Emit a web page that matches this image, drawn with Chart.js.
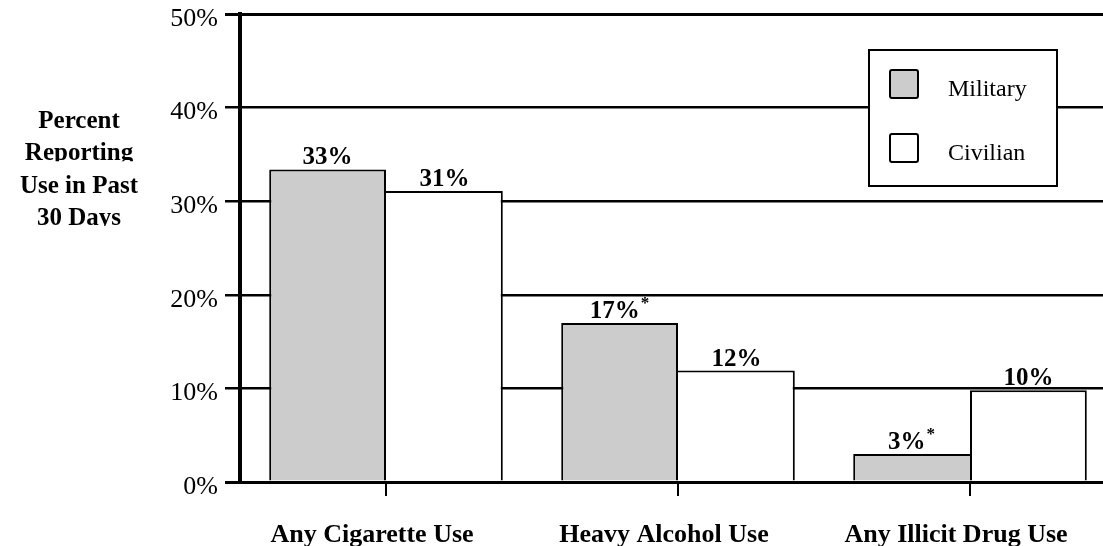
<!DOCTYPE html>
<html><head><meta charset="utf-8">
<script src="https://cdn.jsdelivr.net/npm/chart.js@4/dist/chart.umd.min.js"></script>
<style>html,body{margin:0;padding:0;background:#fff;overflow:hidden;width:1103px;height:546px}canvas{display:block}</style>
</head><body>
<canvas id="c" width="1116" height="546" style="width:1116px;height:546px"></canvas>
<script>
const categories = ['Any Cigarette Use', 'Heavy Alcohol Use', 'Any Illicit Drug Use'];
const seriesNames = ['Military', 'Civilian'];
const militaryValues = [33.4, 17.0, 3.0];
const civilianValues = [31.1, 11.9, 9.8];
const militaryLabels = ['33%', '17%', '3%'];
const civilianLabels = ['31%', '12%', '10%'];
const militaryMarks = ['', '*', '*'];
const civilianMarks = ['', '', ''];
const yTicks = [0, 10, 20, 30, 40, 50];
const yTitleLines = ['Percent', 'Reporting', 'Use in Past', '30 Days'];

const F = "'Liberation Serif', 'Times New Roman', serif";
Chart.defaults.color = '#000';

const valueLabelPlugin = {
  id: 'valueLabels',
  afterDatasetsDraw(chart) {
    const ctx = chart.ctx;
    ctx.save();
    ctx.fillStyle = '#000';
    ctx.textAlign = 'left';
    ctx.textBaseline = 'alphabetic';
    chart.data.datasets.forEach((ds, di) => {
      const meta = chart.getDatasetMeta(di);
      meta.data.forEach((bar, i) => {
        const main = ds.valueLabels[i], mark = ds.marks[i];
        ctx.font = 'bold 25px ' + F;
        const w1 = ctx.measureText(main).width;
        ctx.font = 'bold 17px ' + F;
        const w2 = mark ? ctx.measureText(mark).width + 1 : 0;
        const x0 = bar.x - (w1 + w2) / 2;
        const y = bar.y - 5;
        ctx.font = 'bold 25px ' + F;
        ctx.fillText(main, x0, y);
        if (mark) {
          ctx.font = 'bold 17px ' + F;
          ctx.fillText(mark, x0 + w1 + 1, y - 10);
        }
      });
    });
    ctx.restore();
  }
};

const sideTitlePlugin = {
  id: 'sideTitle',
  afterDraw(chart) {
    const ctx = chart.ctx;
    ctx.save();
    ctx.fillStyle = '#000';
    ctx.font = 'bold 25px ' + F;
    ctx.textAlign = 'center';
    ctx.textBaseline = 'alphabetic';
    yTitleLines.forEach((line, i) => {
      const base = 128 + i * 32.3;
      ctx.save();
      ctx.beginPath();
      ctx.rect(0, base - 30, 200, 31);
      ctx.clip();
      ctx.fillText(line, 79, base);
      ctx.restore();
    });
    ctx.restore();
  }
};

const boxLegendPlugin = {
  id: 'boxLegend',
  afterDraw(chart) {
    const ctx = chart.ctx;
    ctx.save();
    ctx.fillStyle = '#fff';
    ctx.strokeStyle = '#000';
    ctx.lineWidth = 2;
    ctx.fillRect(869, 50, 188, 136);
    ctx.strokeRect(869, 50, 188, 136);
    chart.data.datasets.forEach((ds, i) => {
      const y = 70 + i * 64;
      ctx.beginPath();
      if (ctx.roundRect) ctx.roundRect(890, y, 28, 28, 2); else ctx.rect(890, y, 28, 28);
      ctx.fillStyle = ds.backgroundColor;
      ctx.fill();
      ctx.lineWidth = 2;
      ctx.strokeStyle = '#000';
      ctx.stroke();
      ctx.fillStyle = '#000';
      ctx.font = '24px ' + F;
      ctx.textAlign = 'left';
      ctx.textBaseline = 'alphabetic';
      ctx.fillText(ds.label, 948, y + 26);
    });
    ctx.restore();
  }
};

new Chart(document.getElementById('c'), {
  type: 'bar',
  data: {
    labels: categories,
    datasets: [
      { label: seriesNames[0], data: militaryValues, valueLabels: militaryLabels, marks: militaryMarks,
        backgroundColor: '#cccccc', borderColor: '#000',
        borderWidth: c => ({ left: 2, top: 2, bottom: 0, right: militaryValues[c.dataIndex] >= civilianValues[c.dataIndex] ? 2 : 0 }),
        borderSkipped: false, categoryPercentage: 0.8, barPercentage: 1.0 },
      { label: seriesNames[1], data: civilianValues, valueLabels: civilianLabels, marks: civilianMarks,
        backgroundColor: '#ffffff', borderColor: '#000',
        borderWidth: c => ({ right: 2, top: 2, bottom: 0, left: civilianValues[c.dataIndex] > militaryValues[c.dataIndex] ? 2 : 0 }),
        borderSkipped: false, categoryPercentage: 0.8, barPercentage: 1.0 }
    ]
  },
  options: {
    responsive: false,
    devicePixelRatio: 1,
    animation: false,
    layout: { padding: { top: 14, left: 0, right: 0, bottom: 0 } },
    plugins: { legend: { display: false }, tooltip: { enabled: false }, title: { display: false } },
    scales: {
      x: {
        grid: { display: true, drawOnChartArea: false, drawTicks: true, tickLength: 14, offset: false, color: '#000', lineWidth: 2 },
        border: { display: true, color: '#000', width: 3 },
        ticks: { font: { family: F, size: 26, weight: 'bold' }, color: '#000', padding: 24, labelOffset: -14, maxRotation: 0, autoSkip: false },
        afterFit: s => { s.height = 64; s.paddingLeft = 0; s.paddingRight = 0; }
      },
      y: {
        min: 0, max: 50,
        afterBuildTicks: s => { s.ticks = yTicks.map(v => ({ value: v })); },
        ticks: { callback: v => v + '%', font: { family: F, size: 26, lineHeight: 1 }, color: '#000', padding: 7, labelOffset: 5 },
        grid: { color: '#000', lineWidth: c => (c.tick && (c.tick.value === 50 || c.tick.value === 0)) ? 3 : 2.5, tickLength: 15, drawTicks: true },
        border: { display: true, color: '#000', width: 4 },
        afterFit: s => { s.width = 240; s.paddingTop = 0; s.paddingBottom = 0; }
      }
    }
  },
  plugins: [valueLabelPlugin, sideTitlePlugin, boxLegendPlugin]
});
</script>
</body></html>
